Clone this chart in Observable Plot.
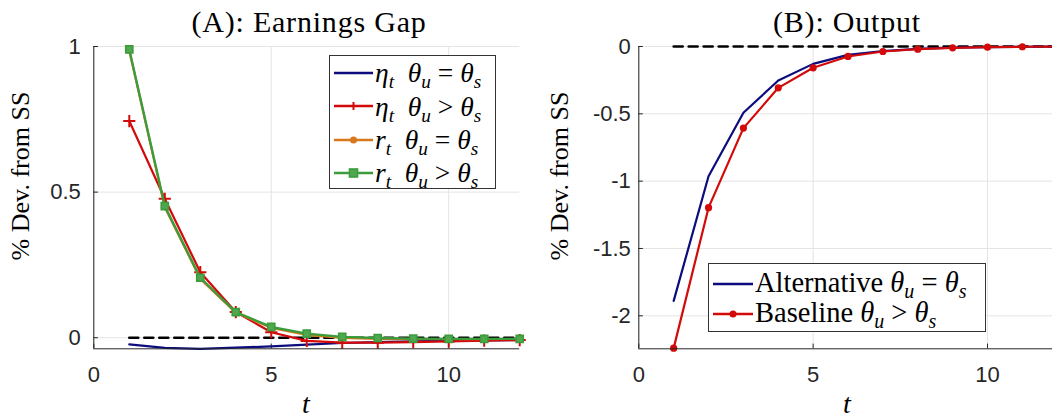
<!DOCTYPE html>
<html><head><meta charset="utf-8">
<script src="https://cdn.jsdelivr.net/npm/d3@7"></script>
<script src="https://cdn.jsdelivr.net/npm/@observablehq/plot@0.6"></script>
<style>
body{margin:0;background:#fff;}
#root{position:relative;width:1052px;height:419px;overflow:hidden;background:#fff;font-family:"Liberation Serif",serif;color:#000;}
.abs{position:absolute;white-space:nowrap;line-height:1;}
.c{transform:translate(-50%,-50%);}
.rot{transform:translate(-50%,-50%) rotate(-90deg);}
.title{font-size:30px;letter-spacing:0.8px;}
.ylab{font-size:26px;}
.xlab{font-size:28px;font-style:italic;}
.legend{position:absolute;box-sizing:border-box;border:1.3px solid #333;background:#fff;}
.row{position:absolute;left:0;display:flex;align-items:center;}
.row svg{display:block;}
.m{margin-left:2px;line-height:1;white-space:nowrap;}
.m i{font-style:italic;}
.m sub{font-size:0.7em;vertical-align:-0.3em;line-height:0;}
.rel{margin:0 0.25em;}
.plot{position:absolute;top:0;}
</style></head><body><div id="root"></div>
<script>
// ---- data ----
const t = [1, 2, 3, 4, 5, 6, 7, 8, 9, 10, 11, 12];
const etaEqual   = [-0.023, -0.035, -0.038, -0.034, -0.030, -0.024, -0.018, -0.015, -0.012, -0.010, -0.009, -0.008];
const etaGreater = [0.744, 0.477, 0.225, 0.088, 0.019, -0.011, -0.017, -0.017, -0.015, -0.013, -0.010, -0.008];
const rEqual     = [0.985, 0.448, 0.202, 0.086, 0.034, 0.010, -0.001, -0.004, -0.005, -0.005, -0.005, -0.004];
const rGreater   = [0.990, 0.452, 0.206, 0.088, 0.037, 0.014, 0.003, -0.001, -0.003, -0.004, -0.004, -0.004];
const outAlt     = [-1.889, -0.964, -0.492, -0.252, -0.129, -0.062, -0.035, -0.017, -0.008, -0.004, -0.002, -0.001];
const outBase    = [-2.240, -1.197, -0.606, -0.307, -0.158, -0.074, -0.037, -0.020, -0.010, -0.005, -0.002, -0.001];
const zeroLine   = [0, 0, 0, 0, 0, 0, 0, 0, 0, 0, 0, 0];
const xTicks  = [0, 5, 10];
const yTicksA = [0, 0.5, 1];
const yTicksB = [0, -0.5, -1, -1.5, -2];
const titles = ["(A): Earnings Gap", "(B): Output"];
const yLabel = "% Dev. from SS";
const xLabel = "t";

const C = {navy: "#0c0c7c", red: "#d30a0a", orange: "#d8771d", green: "#3b9c3b", grid: "#e4e4e4", axis: "#262626"};
const rows = (ys) => t.map((x, i) => ({t: x, v: ys[i]}));

const common = {
  height: 419, marginTop: 46, marginBottom: 70.7,
  style: {fontFamily: "'Liberation Sans', Arial, sans-serif", fontSize: "22px", color: C.axis, background: "transparent"}
};
const fmt = d => String(d);
const dash = {stroke: "#000", strokeWidth: 2.6, strokeDasharray: "9,6"};

// ---- panel A ----
const yA = [-0.038, 1];
const chartA = Plot.plot({
  ...common, width: 526, marginLeft: 93.3, marginRight: 6.8,
  x: {domain: [0, 12]}, y: {domain: yA},
  marks: [
    Plot.gridX(xTicks, {stroke: C.grid, strokeOpacity: 1}),
    Plot.gridY(yTicksA, {stroke: C.grid, strokeOpacity: 1}),
    Plot.axisX(xTicks, {tickSize: 0, tickPadding: 18, label: null, tickFormat: fmt}),
    Plot.axisY(yTicksA, {tickSize: 0, tickPadding: 13, label: null, tickFormat: fmt}),
    Plot.ruleY(yTicksA, {x1: 0, x2: 0.13, stroke: C.axis}),
    Plot.ruleX(xTicks, {y1: yA[0], y2: yA[0] + 0.016, stroke: C.axis}),
    Plot.lineY(rows(zeroLine), {x: "t", y: "v", ...dash}),
    Plot.lineY(rows(etaEqual), {x: "t", y: "v", stroke: C.navy, strokeWidth: 2.2}),
    Plot.lineY(rows(etaGreater), {x: "t", y: "v", stroke: C.red, strokeWidth: 2.2}),
    Plot.dot(rows(etaGreater), {x: "t", y: "v", symbol: "plus", r: 4, stroke: C.red, strokeWidth: 2}),
    Plot.lineY(rows(rEqual), {x: "t", y: "v", stroke: C.orange, strokeWidth: 2.2}),
    Plot.dot(rows(rEqual), {x: "t", y: "v", r: 3, fill: C.orange}),
    Plot.lineY(rows(rGreater), {x: "t", y: "v", stroke: C.green, strokeWidth: 2.4}),
    Plot.dot(rows(rGreater), {x: "t", y: "v", symbol: "square", r: 4, fill: "#4fa84f", stroke: C.green, strokeWidth: 1.6}),
    Plot.ruleX([0], {stroke: C.axis}),
    Plot.ruleY([yA[0]], {stroke: C.axis})
  ]
});

// ---- panel B ----
const yB = [-2.245, 0];
const chartB = Plot.plot({
  ...common, width: 526, marginLeft: 112.3, marginRight: 0,
  x: {domain: [0, 11.864]}, y: {domain: yB},
  marks: [
    Plot.gridX(xTicks, {stroke: C.grid, strokeOpacity: 1}),
    Plot.gridY(yTicksB, {stroke: C.grid, strokeOpacity: 1}),
    Plot.axisX(xTicks, {tickSize: 0, tickPadding: 18, label: null, tickFormat: fmt}),
    Plot.axisY(yTicksB, {tickSize: 0, tickPadding: 8, label: null, tickFormat: fmt}),
    Plot.ruleY(yTicksB, {x1: 0, x2: 0.13, stroke: C.axis}),
    Plot.ruleX(xTicks, {y1: yB[0], y2: yB[0] + 0.035, stroke: C.axis}),
    Plot.lineY(rows(zeroLine), {x: "t", y: "v", ...dash}),
    Plot.lineY(rows(outAlt), {x: "t", y: "v", stroke: C.navy, strokeWidth: 2.2}),
    Plot.lineY(rows(outBase), {x: "t", y: "v", stroke: C.red, strokeWidth: 2.2}),
    Plot.dot(rows(outBase), {x: "t", y: "v", r: 3.6, fill: C.red}),
    Plot.ruleX([0], {stroke: C.axis}),
    Plot.ruleY([yB[0]], {stroke: C.axis})
  ]
});

const root = document.getElementById("root");
chartA.classList.add("plot"); chartA.style.left = "0px";
chartB.classList.add("plot"); chartB.style.left = "526px";
root.appendChild(chartA); root.appendChild(chartB);

function addText(cls, txt, x, y) {
  const d = document.createElement("div");
  d.className = "abs " + cls;
  d.style.left = x + "px"; d.style.top = y + "px";
  d.textContent = txt;
  root.appendChild(d);
  return d;
}
addText("c title", titles[0], 309, 22);
addText("c title", titles[1], 847, 22);
addText("rot ylab", yLabel, 21, 176);
addText("rot ylab", yLabel, 560, 176);
addText("c xlab", xLabel, 306, 404);
addText("c xlab", xLabel, 847, 404);

// ---- legends ----
function sample(color, marker, w) {
  const h = 20, cy = h / 2, cx = w / 2;
  let s = `<svg width="${w}" height="${h}"><line x1="0" x2="${w}" y1="${cy}" y2="${cy}" stroke="${color}" stroke-width="2.4"/>`;
  if (marker === "plus") s += `<path d="M${cx-4},${cy}H${cx+4}M${cx},${cy-4}V${cy+4}" stroke="${color}" stroke-width="2"/>`;
  if (marker === "circle") s += `<circle cx="${cx}" cy="${cy}" r="3.5" fill="${color}"/>`;
  if (marker === "square") s += `<rect x="${cx-4}" y="${cy-4}" width="8" height="8" fill="#4fa84f" stroke="${color}" stroke-width="1.6"/>`;
  return s + "</svg>";
}
const eq = `<i>θ</i><sub><i>u</i></sub><span class="rel">=</span><i>θ</i><sub><i>s</i></sub>`;
const gt = `<i>θ</i><sub><i>u</i></sub><span class="rel">&gt;</span><i>θ</i><sub><i>s</i></sub>`;
const legendA = [
  {c: C.navy, m: null, lab: `<i>η</i><sub><i>t</i></sub>&nbsp;&nbsp;` + eq},
  {c: C.red, m: "plus", lab: `<i>η</i><sub><i>t</i></sub>&nbsp;&nbsp;` + gt},
  {c: C.orange, m: "circle", lab: `<i>r</i><sub><i>t</i></sub>&nbsp;&nbsp;` + eq},
  {c: C.green, m: "square", lab: `<i>r</i><sub><i>t</i></sub>&nbsp;&nbsp;` + gt}
];
const legendB = [
  {c: C.navy, m: null, lab: `Alternative ` + eq},
  {c: C.red, m: "circle", lab: `Baseline ` + gt}
];
function buildLegend(items, box, rowH, top0, sw, fs) {
  const L = document.createElement("div");
  L.className = "legend";
  Object.assign(L.style, {left: box[0] + "px", top: box[1] + "px", width: box[2] + "px", height: box[3] + "px"});
  items.forEach((it, i) => {
    const r = document.createElement("div");
    r.className = "row";
    r.style.top = (top0 + i * rowH) + "px";
    r.style.height = rowH + "px";
    r.style.left = "4px";
    r.innerHTML = sample(it.c, it.m, sw) + `<span class="m" style="font-size:${fs}px">${it.lab}</span>`;
    L.appendChild(r);
  });
  root.appendChild(L);
}
buildLegend(legendA, [329, 55, 167, 134], 33.3, 0.5, 39, 27.5);
buildLegend(legendB, [708, 263, 278, 69], 30, 4.5, 40, 28.5);
</script>
</body></html>
